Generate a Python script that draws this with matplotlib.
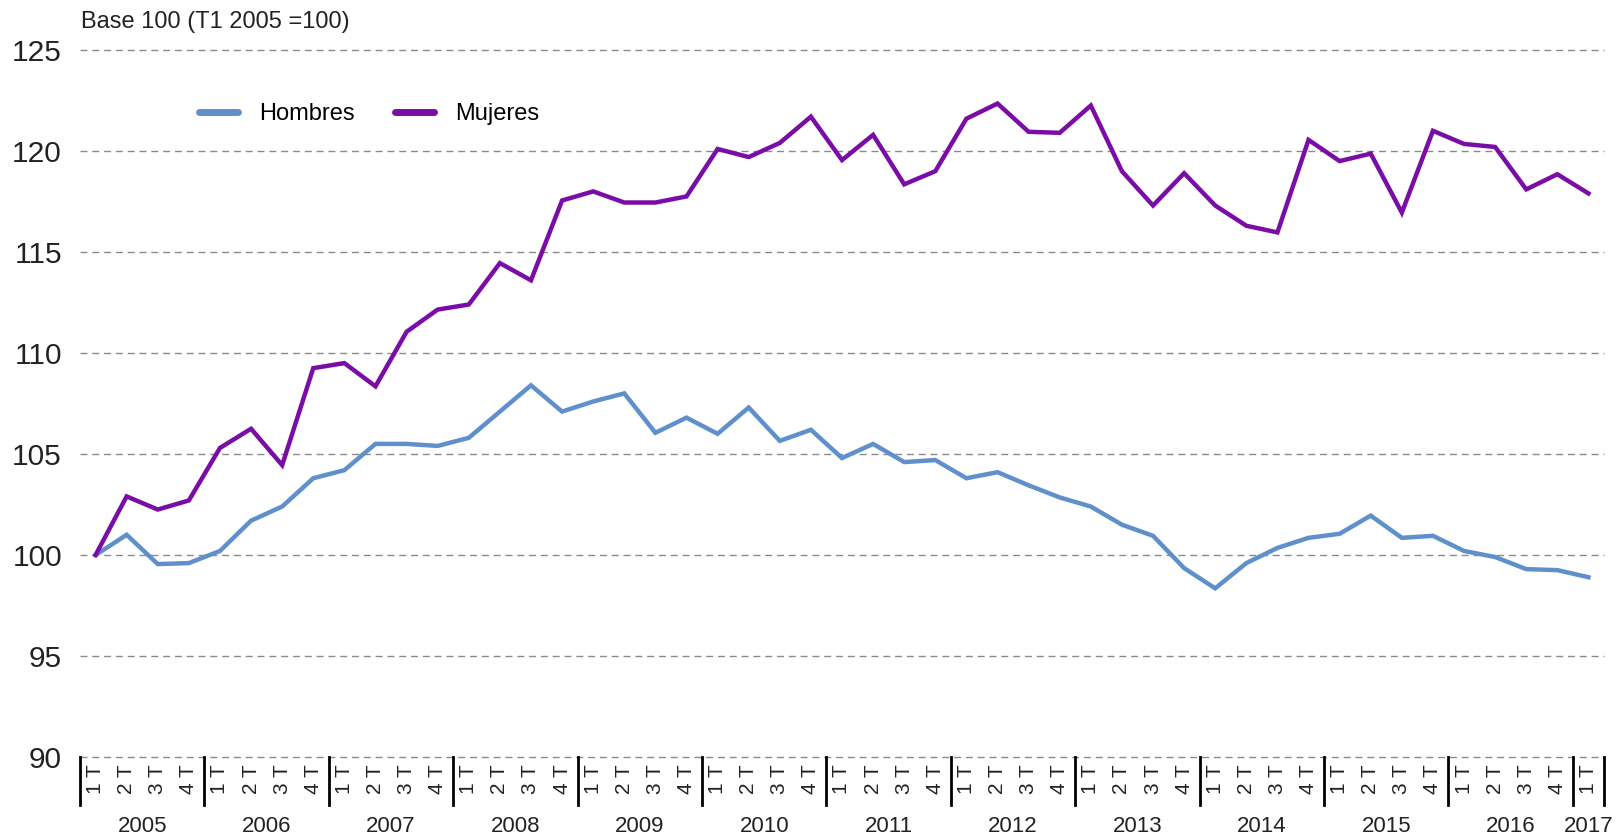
import matplotlib
matplotlib.use("Agg")
import matplotlib.pyplot as plt
from matplotlib.transforms import blended_transform_factory

years = ["2005", "2006", "2007", "2008", "2009", "2010", "2011", "2012",
         "2013", "2014", "2015", "2016", "2017"]
quarter_labels = (["1 T", "2 T", "3 T", "4 T"] * 12) + ["1 T"]

hombres = [100.0, 101.0, 99.55, 99.6, 100.2, 101.7, 102.4, 103.8, 104.2, 105.5,
           105.5, 105.4, 105.8, 107.1, 108.4, 107.1,
           107.6, 108.0, 106.05, 106.8, 106.0, 107.3, 105.65, 106.2, 104.8, 105.5,
           104.6, 104.7, 103.8, 104.1, 103.45, 102.85,
           102.4, 101.5, 100.95, 99.35, 98.35, 99.6, 100.35, 100.85, 101.05, 101.95,
           100.85, 100.95, 100.2, 99.9, 99.3, 99.25, 98.9]
mujeres = [100.0, 102.9, 102.25, 102.7, 105.3, 106.25, 104.45, 109.25, 109.5, 108.35,
           111.05, 112.15, 112.4, 114.45, 113.6, 117.55,
           118.0, 117.45, 117.45, 117.75, 120.1, 119.7, 120.4, 121.7, 119.55, 120.8,
           118.35, 119.0, 121.6, 122.35, 120.95, 120.9,
           122.25, 119.0, 117.3, 118.9, 117.3, 116.3, 115.97, 120.55, 119.5, 119.87,
           116.95, 121.0, 120.35, 120.2, 118.1, 118.85, 117.9]
yticks = [90, 95, 100, 105, 110, 115, 120, 125]

font = ["Liberation Sans", "DejaVu Sans"]
plt.rcParams["font.family"] = font

fig = plt.figure(figsize=(16.23, 8.38), dpi=100)
ax = fig.add_axes([80 / 1623, 1 - 757 / 838, (1604 - 80) / 1623, (757 - 50) / 838])

x = list(range(len(hombres)))
ax.plot(x, hombres, color="#6090CB", lw=3.2, label="Hombres", solid_joinstyle="miter")
ax.plot(x, mujeres, color="#7A0DA6", lw=3.2, label="Mujeres", solid_joinstyle="miter")

ax.set_xlim(-0.5, len(hombres) - 0.5)
ax.set_ylim(90, 125)
ax.set_yticks(yticks)
ax.set_yticklabels([str(v) for v in yticks], fontsize=21.5, color="#222222")
for y in yticks:
    ax.axhline(y, color="#8a8a8a", lw=1.0, ls=(0, (5, 3.5)), zorder=0, clip_on=False)

for s in ax.spines.values():
    s.set_visible(False)
ax.tick_params(axis="y", length=0, pad=13)
ax.set_xticks(x)
ax.set_xticklabels(quarter_labels, rotation=90, fontsize=15, color="#222222")
ax.tick_params(axis="x", length=0, pad=5)

trans = blended_transform_factory(ax.transData, ax.transAxes)
seps = [-0.5 + 4 * k for k in range(13)] + [len(hombres) - 0.5]
for sx in seps:
    ax.plot([sx, sx], [0, -0.068], color="black", lw=2.0, transform=trans,
            clip_on=False)
for k, yr in enumerate(years):
    start = 4 * k
    end = min(4 * k + 3, len(hombres) - 1)
    ax.text((start + end) / 2, -0.099, yr, transform=trans, ha="center",
            va="center", fontsize=16, color="#222222")

fig.text(81 / 1623, 1 - 22 / 838, "Base 100 (T1 2005 =100)", fontsize=17,
         color="#222222", va="center", ha="left")

leg = ax.legend(loc="center left", bbox_to_anchor=(0.064, 0.909), ncol=2,
                frameon=False, fontsize=17, handlelength=1.65, handletextpad=0.9,
                columnspacing=1.7)
for line in leg.get_lines():
    line.set_linewidth(5)
    line.set_solid_capstyle("round")

fig.savefig("out.png", dpi=100)
